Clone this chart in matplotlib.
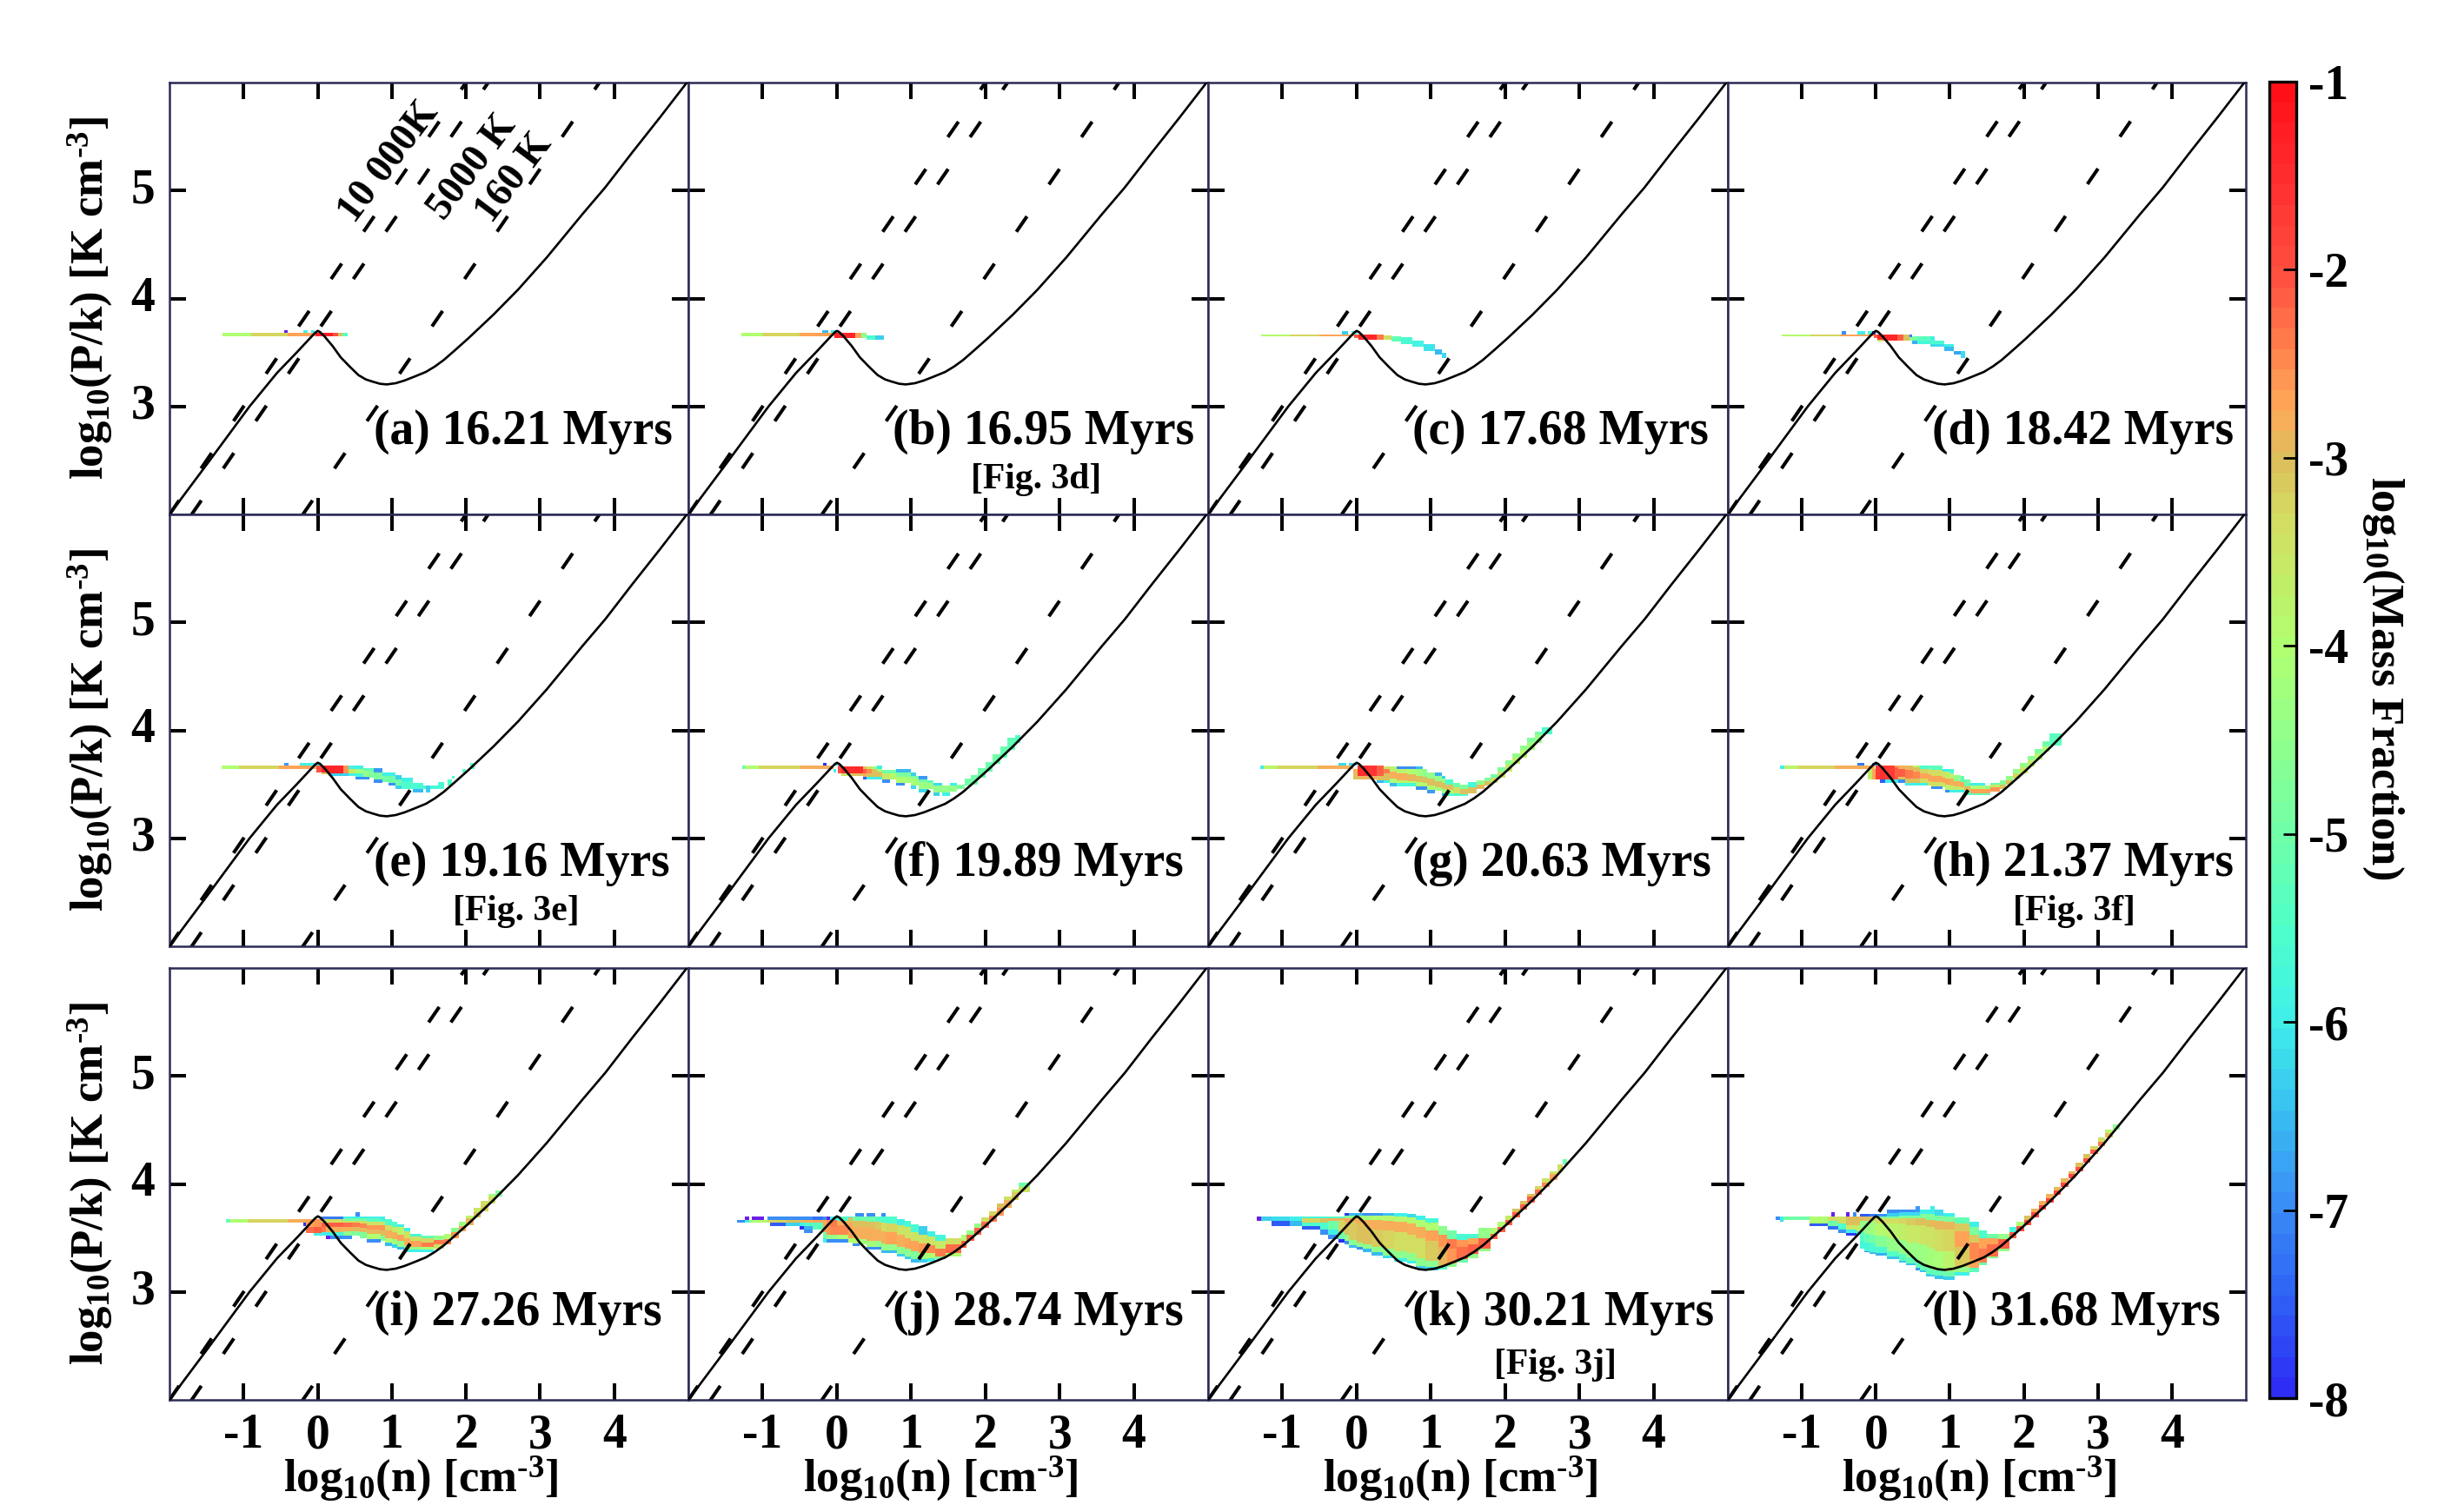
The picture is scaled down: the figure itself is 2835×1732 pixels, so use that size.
import matplotlib
matplotlib.use("Agg")
import matplotlib.pyplot as plt
from matplotlib.colors import LinearSegmentedColormap, Normalize
from matplotlib.cm import ScalarMappable

plt.rcParams['font.family'] = ['Liberation Serif', 'DejaVu Serif']
plt.rcParams['font.weight'] = 'bold'
plt.rcParams['axes.labelweight'] = 'bold'
plt.rcParams['mathtext.fontset'] = 'custom'
plt.rcParams['mathtext.rm'] = 'Liberation Serif:bold'
plt.rcParams['mathtext.default'] = 'rm'
plt.rcParams['axes.unicode_minus'] = False
plt.rcParams['lines.scale_dashes'] = False

W, H = 2835, 1732

# equilibrium curve, log n vs log P/k
curve_n = [-2.0, -1.5, -0.92, -0.55, -0.27, -0.08, -0.03, 0.0, 0.03, 0.09, 0.2, 0.31, 0.43, 0.55, 0.65, 0.74, 0.84, 0.93,
           1.05, 1.17, 1.3, 1.46, 1.58, 1.70, 1.85, 2.03, 2.2, 2.37, 2.70, 3.09, 3.57, 3.88, 4.24, 4.62, 4.98]
curve_p = [2.0, 2.46, 3.0, 3.31, 3.51, 3.65, 3.685, 3.70, 3.69, 3.65, 3.56, 3.455, 3.37, 3.29, 3.25, 3.23, 3.21, 3.204,
           3.215, 3.24, 3.275, 3.32, 3.37, 3.43, 3.52, 3.63, 3.74, 3.85, 4.08, 4.38, 4.78, 5.03, 5.35, 5.68, 6.0]

# isotherms: log P/k = log n + log T
isotherm_logT = [4.0, 3.7, 2.2]
isotherm_names = ['10 000K', '5000 K', '160 K']

panel_names = ['(a) 16.21 Myrs', '(b) 16.95 Myrs', '(c) 17.68 Myrs', '(d) 18.42 Myrs',
               '(e) 19.16 Myrs', '(f) 19.89 Myrs', '(g) 20.63 Myrs', '(h) 21.37 Myrs',
               '(i) 27.26 Myrs', '(j) 28.74 Myrs', '(k) 30.21 Myrs', '(l) 31.68 Myrs']
fig_refs = {1: '[Fig. 3d]', 4: '[Fig. 3e]', 7: '[Fig. 3f]', 10: '[Fig. 3j]'}

xticks = [-1, 0, 1, 2, 3, 4]
yticks = [3, 4, 5]
cticks = [-8, -7, -6, -5, -4, -3, -2, -1]

# cells by column: (log n from, log n to, log P edges, log mass fraction)
panel_a = [
    (-1.29, -0.9, [3.65, 3.68], [-4]), (-0.9, -0.4, [3.65, 3.68], [-3.2]), (-0.4, -0.03, [3.65, 3.68], [-2.7]),
    (-0.03, 0.2, [3.65, 3.68], [-1.3]), (0.2, 0.27, [3.65, 3.68], [-2]), (0.27, 0.33, [3.65, 3.68], [-3]),
    (0.33, 0.4, [3.65, 3.68], [-5.3]), (-0.45, -0.40, [3.68, 3.71], [-8.3]), (-0.19, -0.14, [3.68, 3.71], [-6]),
    (-0.09, -0.04, [3.68, 3.71], [-6]),
]
panel_b = [
    (-1.29, -1.0, [3.65, 3.68], [-4]), (-1.0, -0.5, [3.65, 3.68], [-3.2]), (-0.5, -0.03, [3.65, 3.68], [-2.7]),
    (-0.03, 0.25, [3.63, 3.68], [-1.4]), (0.25, 0.33, [3.63, 3.68], [-2.7]), (0.33, 0.4, [3.63, 3.68], [-4.5]),
    (0.4, 0.52, [3.62, 3.66], [-5.5]), (0.52, 0.63, [3.62, 3.655], [-6.3]),
    (-0.2, -0.12, [3.68, 3.71], [-6.5]), (-0.08, 0.0, [3.68, 3.71], [-6]),
]
panel_c = [
    (-1.29, -0.9, [3.65, 3.67], [-3.9]), (-0.9, -0.5, [3.65, 3.67], [-3.2]), (-0.5, -0.03, [3.65, 3.67], [-2.7]),
    (-0.2, -0.12, [3.67, 3.70], [-6.3]), (-0.07, 0.0, [3.67, 3.70], [-6]),
    (-0.03, 0.02, [3.63, 3.67], [-2.2]), (0.02, 0.27, [3.62, 3.67], [-1.4]), (0.27, 0.37, [3.62, 3.67], [-2.4]),
    (0.37, 0.47, [3.62, 3.66], [-3.3]), (0.47, 0.6, [3.60, 3.65], [-5.2]), (0.6, 0.75, [3.58, 3.64], [-5.6]),
    (0.75, 0.9, [3.55, 3.61], [-5.9]), (0.9, 1.05, [3.51, 3.58], [-6.1]), (1.05, 1.15, [3.48, 3.53], [-6.5]),
    (1.15, 1.21, [3.45, 3.50], [-6.2]),
]
panel_d = [
    (-1.27, -0.88, [3.65, 3.67], [-3.9]), (-0.88, -0.49, [3.65, 3.67], [-3.2]), (-0.49, -0.03, [3.65, 3.67], [-2.7]),
    (-0.46, -0.40, [3.67, 3.70], [-7]), (-0.25, -0.15, [3.67, 3.70], [-6]), (-0.11, -0.05, [3.67, 3.70], [-5.8]),
    (-0.05, 0.0, [3.67, 3.70], [-8.3]), (-0.03, 0.02, [3.63, 3.67], [-2.2]), (0.02, 0.1, [3.60, 3.62, 3.67], [-3.5, -1.4]),
    (0.1, 0.29, [3.61, 3.67], [-1.4]), (0.29, 0.37, [3.61, 3.67], [-2.2]), (0.37, 0.45, [3.61, 3.67], [-3]),
    (0.45, 0.49, [3.61, 3.645, 3.67], [-4.5, -7.2]), (0.49, 0.56, [3.58, 3.61, 3.648], [-6.6, -5]),
    (0.56, 0.74, [3.58, 3.61, 3.648], [-5.8, -5.3]), (0.74, 0.8, [3.55, 3.58, 3.61, 3.648], [-6.2, -5.5, -6]),
    (0.8, 0.92, [3.55, 3.58, 3.61], [-6.2, -5.6]), (0.92, 1.05, [3.51, 3.55, 3.58], [-6.5, -6]),
    (1.05, 1.15, [3.48, 3.51], [-6.7]), (1.15, 1.21, [3.45, 3.51], [-6.2]),
]
panel_e = [
    (-1.30, -1.06, [3.645, 3.675], [-4]), (-1.06, -0.52, [3.645, 3.675], [-3.2]), (-0.52, -0.02, [3.645, 3.675], [-2.7]),
    (-0.45, -0.39, [3.675, 3.70], [-6.8]), (-0.24, 0.05, [3.675, 3.70], [-5.9]), (-0.02, 0.05, [3.61, 3.675], [-2]),
    (0.05, 0.15, [3.59, 3.61, 3.675], [-3, -1.4]), (0.15, 0.34, [3.58, 3.605, 3.675], [-6.3, -1.4]),
    (0.34, 0.42, [3.58, 3.605, 3.675], [-6.3, -2.6]), (0.42, 0.51, [3.58, 3.605, 3.645, 3.675], [-6, -3.6, -5.9]),
    (0.51, 0.62, [3.545, 3.57, 3.60, 3.64, 3.675], [-7, -5.8, -4.2, -6]),
    (0.62, 0.7, [3.545, 3.57, 3.625, 3.65], [-7, -4.5, -5.3]), (0.7, 0.75, [3.56, 3.625, 3.65], [-4.8, -5.3]),
    (0.75, 0.87, [3.513, 3.545, 3.61, 3.65], [-7, -4.8, -6.8]), (0.87, 0.95, [3.52, 3.58, 3.61], [-5, -6]),
    (0.95, 1.05, [3.485, 3.51, 3.58, 3.61], [-7, -5, -6]), (1.05, 1.13, [3.455, 3.485, 3.545, 3.585], [-6.3, -5, -6.3]),
    (1.13, 1.28, [3.455, 3.53, 3.56], [-5.5, -6]), (1.28, 1.42, [3.425, 3.455, 3.51], [-6.5, -5.6]),
    (1.42, 1.46, [3.455, 3.49], [-5.8]), (1.46, 1.52, [3.425, 3.49], [-6.3]), (1.52, 1.62, [3.455, 3.485], [-5.8]),
    (1.62, 1.71, [3.455, 3.52], [-5.6]), (1.75, 1.81, [3.49, 3.545], [-5.5]), (1.81, 1.85, [3.55, 3.578], [-5.5]),
    (1.95, 2.0, [3.61, 3.645], [-5.3]), (2.06, 2.11, [3.64, 3.70], [-5.5]),
]
panel_f = [
    (-1.28, -1.24, [3.64, 3.675], [-5.2]), (-1.24, -1.05, [3.64, 3.675], [-4]), (-1.05, -0.5, [3.64, 3.675], [-3.2]),
    (-0.5, -0.05, [3.64, 3.675], [-2.8]), (-0.18, -0.14, [3.675, 3.70], [-8]), (-0.04, 0.01, [3.675, 3.70], [-6.2]),
    (-0.05, -0.01, [3.61, 3.64], [-6]), (0.01, 0.06, [3.60, 3.675], [-2]),
    (0.06, 0.2, [3.58, 3.605, 3.67], [-3.5, -1.5]), (0.2, 0.35, [3.58, 3.605, 3.67], [-3, -1.5]),
    (0.35, 0.40, [3.545, 3.57, 3.60, 3.64, 3.67], [-7.5, -2.8, -2.2, -3]),
    (0.40, 0.47, [3.545, 3.57, 3.60, 3.64, 3.67], [-6, -3, -2.5, -3.4]), (0.47, 0.54, [3.545, 3.57, 3.64, 3.67], [-6, -3, -4.3]),
    (0.54, 0.61, [3.545, 3.57, 3.62, 3.645, 3.675], [-6, -3, -4.2, -6]),
    (0.61, 0.72, [3.513, 3.545, 3.60, 3.63], [-7, -3.6, -5]), (0.72, 0.8, [3.545, 3.60, 3.63], [-3.9, -5]),
    (0.8, 0.91, [3.486, 3.513, 3.57, 3.61, 3.645], [-7, -4, -4.8, -6.5]), (0.91, 1.0, [3.513, 3.57, 3.61, 3.645], [-4.1, -4.8, -6.5]),
    (1.0, 1.07, [3.456, 3.486, 3.55, 3.58, 3.61], [-6.2, -4.1, -4.8, -6.3]), (1.07, 1.1, [3.486, 3.55, 3.58], [-4.2, -5]),
    (1.1, 1.22, [3.424, 3.456, 3.52, 3.545, 3.58], [-6.2, -4.3, -5, -6.8]), (1.22, 1.3, [3.456, 3.51, 3.54], [-4.3, -5.2]),
    (1.3, 1.38, [3.39, 3.424, 3.486, 3.513], [-6.3, -4.4, -6.2]), (1.38, 1.42, [3.424, 3.486, 3.513], [-4.5, -6.2]),
    (1.42, 1.52, [3.39, 3.424, 3.49], [-6, -4.5]), (1.52, 1.62, [3.43, 3.486, 3.513], [-4.5, -6]),
    (1.62, 1.72, [3.46, 3.50], [-4.8]), (1.72, 1.8, [3.49, 3.55], [-5]), (1.8, 1.9, [3.50, 3.585], [-5]),
    (1.9, 2.0, [3.56, 3.65], [-5]), (2.0, 2.1, [3.62, 3.71], [-5.1]), (2.1, 2.2, [3.69, 3.78], [-5]),
    (2.2, 2.3, [3.75, 3.85], [-5.1]), (2.3, 2.4, [3.82, 3.93], [-5.2]), (2.4, 2.47, [3.88, 3.955], [-5.4]),
]
panel_g = [
    (-1.30, -1.25, [3.645, 3.672], [-6]), (-1.25, -1.06, [3.645, 3.672], [-3.8]), (-1.06, -0.52, [3.645, 3.672], [-3.2]),
    (-0.52, -0.05, [3.645, 3.672], [-2.8]), (-0.24, -0.14, [3.672, 3.70], [-6.2]), (-0.1, 0.0, [3.672, 3.70], [-6.3]),
    (-0.05, 0.01, [3.545, 3.60, 3.645], [-3, -2.8]), (0.01, 0.15, [3.545, 3.575, 3.672], [-2.9, -1.5]),
    (0.15, 0.27, [3.545, 3.58, 3.672], [-2.8, -1.6]), (0.27, 0.36, [3.513, 3.54, 3.58, 3.672], [-6.5, -3, -2.1]),
    (0.36, 0.45, [3.513, 3.54, 3.60, 3.645, 3.67], [-6, -3, -2.4, -3.5]),
    (0.45, 0.54, [3.483, 3.51, 3.55, 3.62, 3.67], [-6.5, -4, -2.8, -3.8]),
    (0.54, 0.68, [3.483, 3.51, 3.54, 3.60, 3.645, 3.67], [-5.8, -3.8, -2.8, -3.8, -7]),
    (0.68, 0.8, [3.483, 3.51, 3.53, 3.59, 3.645, 3.67], [-5.8, -4, -2.9, -4, -7]),
    (0.8, 0.89, [3.45, 3.483, 3.52, 3.58, 3.64, 3.67], [-7, -4, -3, -4.2, -6.5]),
    (0.89, 0.95, [3.45, 3.48, 3.51, 3.57, 3.645], [-7, -4, -3, -4.6]),
    (0.95, 1.05, [3.42, 3.45, 3.49, 3.55, 3.613], [-6.8, -4, -3, -4.5]),
    (1.05, 1.15, [3.44, 3.47, 3.53, 3.58, 3.613], [-4.2, -3, -4.5, -6.6]),
    (1.15, 1.2, [3.39, 3.42, 3.46, 3.51, 3.55, 3.58], [-6.5, -4.4, -3, -4.5, -6.3]),
    (1.2, 1.3, [3.39, 3.42, 3.45, 3.5, 3.545], [-5.5, -4, -3, -5.5]), (1.3, 1.4, [3.39, 3.42, 3.47, 3.515], [-5.5, -3.3, -5]),
    (1.4, 1.5, [3.39, 3.41, 3.46, 3.50], [-5.5, -3, -4.8]), (1.5, 1.62, [3.42, 3.47, 3.52], [-3, -5.8]),
    (1.62, 1.72, [3.455, 3.50, 3.54], [-2.9, -4.5]), (1.72, 1.8, [3.49, 3.53, 3.56], [-3, -4.8]),
    (1.8, 1.9, [3.51, 3.56, 3.59], [-3.3, -5]), (1.9, 2.0, [3.56, 3.62, 3.66], [-3.5, -4.8]),
    (2.0, 2.1, [3.62, 3.68, 3.72], [-3.6, -4.6]), (2.1, 2.2, [3.69, 3.75, 3.79], [-3.7, -4.5]),
    (2.2, 2.3, [3.75, 3.82, 3.86], [-3.9, -4.6]), (2.3, 2.4, [3.82, 3.89, 3.93], [-4.2, -4.8]),
    (2.4, 2.5, [3.88, 3.96, 3.99], [-4.5, -5]), (2.5, 2.63, [3.96, 4.03], [-5.5]),
]
panel_h = [
    (-1.29, -1.24, [3.64, 3.675], [-6]), (-1.24, -1.05, [3.64, 3.675], [-3.8]), (-1.05, -0.56, [3.64, 3.675], [-3.2]),
    (-0.56, -0.02, [3.64, 3.675], [-2.8]), (-0.25, -0.16, [3.675, 3.70], [-7.2]), (-0.05, 0.02, [3.675, 3.70], [-7]),
    (-0.11, -0.05, [3.545, 3.64], [-3.7]), (-0.05, 0.0, [3.545, 3.64], [-2.7]),
    (0.0, 0.05, [3.545, 3.675], [-1.7]), (0.05, 0.12, [3.513, 3.545, 3.675], [-7.5, -1.6]),
    (0.12, 0.25, [3.513, 3.545, 3.675], [-6, -1.7]), (0.25, 0.3, [3.513, 3.545, 3.66, 3.675], [-6, -2.1, -2.7]),
    (0.3, 0.4, [3.513, 3.545, 3.57, 3.64, 3.675], [-7, -3, -2.2, -2.8]),
    (0.4, 0.5, [3.486, 3.513, 3.55, 3.63, 3.675], [-6, -3, -2.4, -2.9]),
    (0.5, 0.6, [3.486, 3.513, 3.55, 3.62, 3.66, 3.675], [-6, -3, -2.5, -3, -4]),
    (0.6, 0.7, [3.486, 3.513, 3.55, 3.60, 3.64, 3.675], [-6, -3.3, -2.7, -3.2, -5.5]),
    (0.75, 0.9, [3.456, 3.483, 3.52, 3.58, 3.63, 3.675], [-7, -3.5, -2.7, -3.3, -5.3]),
    (0.7, 0.75, [3.486, 3.53, 3.59, 3.64, 3.675], [-3.4, -2.7, -3.4, -5.4]),
    (0.9, 0.94, [3.47, 3.51, 3.56, 3.615, 3.645], [-3.6, -2.7, -3.5, -6]),
    (0.94, 1.0, [3.424, 3.45, 3.50, 3.55, 3.615, 3.645], [-7, -3.8, -2.7, -3.6, -6]),
    (1.0, 1.05, [3.424, 3.45, 3.49, 3.55, 3.60, 3.645], [-6, -3.7, -2.8, -3.8, -5.8]),
    (1.05, 1.145, [3.424, 3.45, 3.48, 3.53, 3.585], [-6, -3.6, -2.8, -4.5]),
    (1.145, 1.2, [3.424, 3.45, 3.47, 3.52, 3.58], [-6, -3.6, -2.8, -5.3]),
    (1.2, 1.28, [3.40, 3.44, 3.48, 3.545], [-5.3, -2.9, -5]), (1.28, 1.48, [3.40, 3.42, 3.46, 3.486, 3.513], [-5.2, -2.7, -4, -6]),
    (1.48, 1.55, [3.40, 3.42, 3.46, 3.49], [-5.2, -2.7, -4.5]), (1.55, 1.68, [3.43, 3.47, 3.50, 3.513], [-2.6, -3.6, -5]),
    (1.68, 1.76, [3.46, 3.50, 3.54], [-3, -4.7]), (1.76, 1.85, [3.50, 3.54, 3.58], [-3, -4.5]),
    (1.85, 1.95, [3.55, 3.60, 3.64], [-3.2, -4.5]), (1.95, 2.05, [3.60, 3.66, 3.70], [-3.5, -4.5]),
    (2.05, 2.15, [3.67, 3.72, 3.76], [-3.7, -4.6]), (2.15, 2.25, [3.73, 3.79, 3.83], [-3.8, -4.8]),
    (2.25, 2.35, [3.80, 3.85, 3.90], [-4, -5]), (2.35, 2.51, [3.86, 3.97], [-5.3]),
]
panel_i = [
    (-1.24, -1.18, [3.64, 3.672], [-5.2]), (-1.18, -0.95, [3.64, 3.672], [-4]), (-0.95, -0.4, [3.64, 3.672], [-3.2]),
    (-0.4, -0.16, [3.64, 3.672], [-2.8]), (-0.2, -0.145, [3.607, 3.64], [-8]),
    (-0.16, -0.05, [3.545, 3.60, 3.672], [-2.3, -2.7]), (-0.05, 0.05, [3.52, 3.545, 3.60, 3.672], [-6, -2.2, -2.6]),
    (0.05, 0.11, [3.52, 3.55, 3.60, 3.64, 3.672, 3.70], [-6, -2.4, -2.1, -3.5, -7.2]),
    (0.11, 0.17, [3.486, 3.52, 3.55, 3.60, 3.64, 3.672, 3.70], [-8.3, -6, -2.8, -2.1, -3.5, -7.2]),
    (0.17, 0.34, [3.486, 3.52, 3.55, 3.60, 3.64, 3.672, 3.70], [-7, -5.8, -2.8, -2.1, -3.3, -7.2]),
    (0.34, 0.46, [3.486, 3.52, 3.56, 3.60, 3.64, 3.66, 3.68, 3.70], [-7, -4.6, -2.8, -2.3, -3.4, -5, -6]),
    (0.46, 0.51, [3.52, 3.56, 3.60, 3.64, 3.66, 3.68, 3.70], [-4.8, -2.9, -2.4, -3.4, -5, -6]),
    (0.51, 0.57, [3.52, 3.56, 3.60, 3.64, 3.66, 3.68, 3.70, 3.735], [-4.8, -2.9, -2.4, -3.4, -5, -6, -7]),
    (0.57, 0.66, [3.50, 3.55, 3.59, 3.63, 3.66, 3.68, 3.70], [-4.8, -2.9, -2.5, -3.4, -5, -6]),
    (0.66, 0.85, [3.456, 3.486, 3.54, 3.58, 3.62, 3.65, 3.68, 3.70], [-7, -4, -2.9, -2.6, -3.5, -5.3, -6]),
    (0.85, 0.91, [3.47, 3.52, 3.57, 3.62, 3.65, 3.67, 3.70], [-4.8, -3, -2.6, -3.5, -5.5, -6]),
    (0.91, 1.0, [3.424, 3.456, 3.50, 3.57, 3.62, 3.672], [-6.5, -4, -2.8, -3.4, -5.5]),
    (1.0, 1.07, [3.41, 3.44, 3.49, 3.55, 3.60, 3.65], [-6.3, -4.2, -2.8, -3.6, -5.5]),
    (1.07, 1.16, [3.39, 3.42, 3.47, 3.53, 3.60, 3.625], [-6.5, -4.4, -2.7, -3.8, -6]),
    (1.16, 1.25, [3.365, 3.39, 3.43, 3.50, 3.56, 3.595], [-6, -4.5, -2.8, -3.5, -6]),
    (1.25, 1.4, [3.365, 3.39, 3.42, 3.47, 3.51, 3.535], [-6, -4.5, -2.7, -3.5, -5.8]),
    (1.4, 1.57, [3.365, 3.39, 3.42, 3.46, 3.50, 3.52], [-6, -4, -2.4, -3.2, -5.2]),
    (1.57, 1.7, [3.40, 3.44, 3.48, 3.52], [-3.5, -2.4, -4.5]), (1.7, 1.8, [3.44, 3.49, 3.54], [-2.4, -4]),
    (1.8, 1.9, [3.50, 3.55, 3.59], [-2.6, -4.6]), (1.9, 2.0, [3.56, 3.61, 3.65], [-2.7, -4.3]),
    (2.0, 2.1, [3.62, 3.68, 3.71], [-2.9, -3.8]), (2.1, 2.2, [3.69, 3.74, 3.78], [-3, -3.6]),
    (2.2, 2.3, [3.75, 3.81, 3.84], [-3.2, -3.5]), (2.3, 2.4, [3.82, 3.88, 3.91], [-3.4, -4.2]),
    (2.4, 2.49, [3.88, 3.936], [-4.7]),
]
panel_j = [
    (-1.34, -1.24, [3.64, 3.667], [-7]), (-1.24, -1.18, [3.64, 3.667, 3.70], [-6, -8.3]), (-1.18, -1.14, [3.64, 3.667], [-4.5]),
    (-1.14, -0.98, [3.64, 3.667, 3.70], [-4, -8.3]), (-0.98, -0.93, [3.64, 3.667], [-4]),
    (-0.93, -0.9, [3.64, 3.667, 3.70], [-3.4, -7]), (-0.9, -0.69, [3.608, 3.64, 3.667, 3.70], [-7.5, -3.2, -7]),
    (-0.69, -0.5, [3.608, 3.64, 3.667, 3.70], [-6.3, -3, -7]), (-0.5, -0.44, [3.575, 3.608, 3.64, 3.667, 3.70], [-8, -6, -2.9, -7]),
    (-0.44, -0.33, [3.545, 3.575, 3.608, 3.64, 3.667, 3.70], [-7, -6.6, -5.5, -2.8, -7]),
    (-0.33, -0.18, [3.575, 3.64, 3.667, 3.70], [-5.3, -2.7, -7.3]),
    (-0.18, -0.14, [3.46, 3.50, 3.55, 3.667, 3.70], [-6, -5, -2.7, -7]), (-0.14, -0.09, [3.454, 3.486, 3.53, 3.667, 3.70], [-7, -4.5, -2.6, -8.3]),
    (-0.09, 0.0, [3.454, 3.486, 3.53, 3.60, 3.667, 3.70], [-7, -4.5, -2.5, -2.4, -6]),
    (0.0, 0.15, [3.454, 3.486, 3.53, 3.62, 3.66, 3.70], [-7, -4, -2.5, -2.8, -5.5]),
    (0.15, 0.21, [3.46, 3.50, 3.57, 3.64, 3.69, 3.70], [-4, -2.7, -2.7, -3, -6]),
    (0.21, 0.25, [3.425, 3.45, 3.50, 3.60, 3.66, 3.70], [-7, -4, -2.8, -3, -5]),
    (0.25, 0.31, [3.425, 3.45, 3.50, 3.60, 3.66, 3.70, 3.73], [-7, -4, -2.8, -3, -5, -7]),
    (0.31, 0.36, [3.44, 3.49, 3.60, 3.66, 3.70, 3.73], [-4.2, -2.8, -3, -5, -7]),
    (0.36, 0.4, [3.44, 3.49, 3.60, 3.66, 3.70], [-4.2, -2.8, -3, -5]),
    (0.4, 0.52, [3.39, 3.42, 3.47, 3.59, 3.65, 3.70, 3.73], [-7, -4.2, -2.8, -3, -5, -7]),
    (0.52, 0.6, [3.39, 3.42, 3.47, 3.58, 3.65, 3.70], [-7, -4.4, -2.8, -3.1, -5.4]),
    (0.6, 0.66, [3.36, 3.387, 3.45, 3.56, 3.64, 3.70, 3.73], [-6.5, -4.5, -2.8, -3.3, -5.5, -7]),
    (0.66, 0.81, [3.36, 3.387, 3.44, 3.55, 3.63, 3.70], [-6.5, -4.5, -2.7, -3.2, -5.5]),
    (0.81, 0.91, [3.325, 3.35, 3.42, 3.53, 3.62, 3.675], [-6.3, -4.6, -2.8, -3.5, -6]),
    (0.91, 1.0, [3.30, 3.325, 3.40, 3.50, 3.60, 3.655], [-6.3, -4.6, -2.7, -3.5, -5.6]),
    (1.0, 1.1, [3.27, 3.30, 3.38, 3.47, 3.55, 3.625], [-6.5, -4.8, -2.7, -3.5, -5.6]),
    (1.1, 1.22, [3.27, 3.30, 3.36, 3.45, 3.53, 3.61], [-6.3, -4.2, -2.6, -3.5, -6.3]),
    (1.22, 1.32, [3.28, 3.31, 3.36, 3.43, 3.51, 3.565], [-6, -4, -2.5, -3.5, -6]),
    (1.32, 1.47, [3.30, 3.33, 3.40, 3.47, 3.527], [-4.8, -2.4, -3.6, -5.8]),
    (1.47, 1.67, [3.33, 3.36, 3.44, 3.495], [-4, -2.3, -3.4]), (1.67, 1.75, [3.41, 3.47, 3.527], [-2.2, -4]),
    (1.75, 1.85, [3.47, 3.53, 3.57], [-2.2, -4.5]), (1.85, 1.95, [3.53, 3.59, 3.63], [-2.2, -4.5]),
    (1.95, 2.05, [3.59, 3.65, 3.69], [-2.3, -3.4]), (2.05, 2.15, [3.65, 3.71, 3.75], [-2.4, -3.2]),
    (2.15, 2.25, [3.71, 3.78, 3.82], [-2.6, -3]), (2.25, 2.35, [3.78, 3.85, 3.88], [-2.8, -3.3]),
    (2.35, 2.45, [3.85, 3.92, 3.95], [-3.1, -3.7]), (2.45, 2.6, [3.92, 3.97, 4.01], [-3.5, -5]),
]
panel_k = [
    (-1.35, -1.29, [3.66, 3.70], [-8.3]), (-1.29, -1.14, [3.66, 3.70], [-6.3]), (-1.14, -0.9, [3.61, 3.66, 3.70], [-7.5, -6.2]),
    (-0.9, -0.74, [3.61, 3.66, 3.70], [-6.5, -6]), (-0.74, -0.49, [3.58, 3.61, 3.64, 3.68, 3.70], [-7.5, -5.5, -3.2, -5.8]),
    (-0.49, -0.39, [3.53, 3.58, 3.64, 3.68, 3.70], [-7, -5.5, -3, -5.6]),
    (-0.39, -0.24, [3.49, 3.53, 3.58, 3.66, 3.68, 3.70], [-7, -6, -5, -2.8, -5.4]),
    (-0.24, -0.16, [3.46, 3.49, 3.55, 3.67, 3.68, 3.70], [-8, -5, -3.2, -2.7, -5.3]),
    (-0.16, -0.1, [3.44, 3.47, 3.53, 3.65, 3.68, 3.71, 3.73], [-7, -4.6, -3, -2.7, -4.6, -7.8]),
    (-0.1, 0.0, [3.405, 3.43, 3.48, 3.65, 3.68, 3.71, 3.73], [-6.5, -4.6, -3.1, -2.8, -4.6, -6.5]),
    (0.0, 0.08, [3.39, 3.42, 3.46, 3.63, 3.68, 3.71, 3.73], [-7, -4.6, -3, -2.8, -4.4, -6.5]),
    (0.08, 0.2, [3.37, 3.40, 3.44, 3.60, 3.67, 3.71, 3.73], [-6.5, -4.6, -3, -2.8, -4.2, -7]),
    (0.2, 0.35, [3.34, 3.37, 3.42, 3.58, 3.67, 3.71, 3.73], [-6.5, -4.6, -3.1, -2.8, -4, -6.8]),
    (0.35, 0.5, [3.31, 3.34, 3.40, 3.57, 3.66, 3.71, 3.73], [-6.2, -4.6, -3.2, -2.8, -3.9, -6.4]),
    (0.5, 0.68, [3.28, 3.31, 3.38, 3.55, 3.65, 3.70, 3.73], [-6, -4.6, -3.3, -2.8, -3.9, -6]),
    (0.68, 0.8, [3.26, 3.29, 3.36, 3.53, 3.63, 3.69, 3.72], [-6, -4.6, -3.4, -2.8, -3.9, -6.2]),
    (0.8, 0.93, [3.21, 3.24, 3.31, 3.50, 3.60, 3.67, 3.71], [-6.3, -4.6, -3.3, -2.8, -4, -6]),
    (0.93, 1.1, [3.20, 3.23, 3.29, 3.47, 3.57, 3.64, 3.68], [-6.3, -4.6, -3.1, -2.7, -4, -5.8]),
    (1.1, 1.22, [3.21, 3.24, 3.42, 3.53, 3.61], [-5.4, -2.9, -2.6, -4.6]),
    (1.22, 1.35, [3.23, 3.26, 3.40, 3.49, 3.57], [-4.6, -2.6, -2.4, -5]),
    (1.35, 1.5, [3.27, 3.30, 3.42, 3.48, 3.54], [-5, -2.3, -2.6, -5.6]),
    (1.5, 1.64, [3.31, 3.35, 3.44, 3.50, 3.54], [-4.5, -2.2, -2.7, -5.6]),
    (1.64, 1.8, [3.38, 3.40, 3.50, 3.59], [-4.5, -2.2, -4.5]), (1.8, 1.9, [3.49, 3.54, 3.59], [-2.2, -4]),
    (1.9, 2.0, [3.55, 3.60, 3.65], [-2.2, -4]), (2.0, 2.1, [3.62, 3.67, 3.71], [-2.1, -3.6]),
    (2.1, 2.2, [3.69, 3.74, 3.77], [-2.1, -3]), (2.2, 2.3, [3.76, 3.81, 3.84], [-2.1, -3]),
    (2.3, 2.4, [3.83, 3.88, 3.91], [-2.2, -3]), (2.4, 2.5, [3.90, 3.95, 3.98], [-2.3, -3.2]),
    (2.5, 2.6, [3.97, 4.01, 4.05], [-2.5, -3.5]), (2.6, 2.7, [4.04, 4.09, 4.12], [-2.7, -3.6]),
    (2.7, 2.78, [4.11, 4.18], [-3.4]), (2.78, 2.84, [4.18, 4.23], [-5]),
]
panel_l = [
    (-1.35, -1.3, [3.667, 3.70], [-7]), (-1.3, -1.25, [3.65, 3.667, 3.70], [-6.2, -6]), (-1.25, -0.9, [3.667, 3.70], [-5]),
    (-0.9, -0.65, [3.61, 3.635, 3.70], [-7.5, -4]), (-0.65, -0.51, [3.575, 3.61, 3.66, 3.70], [-7.3, -5, -3.4]),
    (-0.6, -0.55, [3.70, 3.74], [-8.3]), (-0.51, -0.4, [3.548, 3.575, 3.63, 3.70], [-7, -5.5, -3.3]),
    (-0.4, -0.35, [3.52, 3.548, 3.58, 3.62, 3.70, 3.74], [-7.8, -6, -3.6, -3, -8.3]),
    (-0.35, -0.31, [3.52, 3.548, 3.58, 3.62, 3.70], [-7.8, -6, -3.6, -3]),
    (-0.31, -0.26, [3.52, 3.548, 3.58, 3.62, 3.70, 3.74], [-7.8, -6, -3.6, -3, -7]),
    (-0.26, -0.22, [3.527, 3.56, 3.62, 3.70], [-6, -3.7, -3]),
    (-0.22, -0.16, [3.40, 3.47, 3.55, 3.66, 3.70, 3.72], [-5.8, -5.4, -4.5, -2.9, -7.5]),
    (-0.16, -0.08, [3.365, 3.38, 3.46, 3.54, 3.66, 3.70, 3.72], [-7, -5.8, -5.2, -4.4, -3, -7.5]),
    (-0.08, 0.0, [3.35, 3.37, 3.45, 3.53, 3.66, 3.70, 3.72], [-6.5, -5.7, -5, -4.2, -3.1, -7.2]),
    (0.0, 0.15, [3.338, 3.36, 3.42, 3.52, 3.63, 3.68, 3.70, 3.72], [-6.6, -5.6, -4.7, -3.9, -3.3, -4.8, -7]),
    (0.15, 0.31, [3.306, 3.33, 3.38, 3.50, 3.63, 3.68, 3.70, 3.73, 3.76], [-6.4, -5.4, -4.5, -3.8, -3.3, -4.8, -6.3, -7]),
    (0.31, 0.41, [3.27, 3.29, 3.35, 3.48, 3.63, 3.68, 3.71, 3.735, 3.76], [-6.4, -5.3, -4.4, -3.7, -3.2, -4.8, -6.2, -7]),
    (0.41, 0.54, [3.244, 3.265, 3.32, 3.46, 3.62, 3.68, 3.71, 3.735, 3.76], [-6.4, -5.2, -4.3, -3.6, -3.1, -4.8, -6.2, -7]),
    (0.54, 0.6, [3.20, 3.22, 3.28, 3.45, 3.62, 3.68, 3.71, 3.735, 3.795], [-6.8, -5.2, -4.3, -3.6, -3, -4.8, -6.2, -6.8]),
    (0.6, 0.68, [3.18, 3.20, 3.26, 3.44, 3.62, 3.68, 3.72, 3.76], [-6.4, -5.2, -4.3, -3.5, -3, -4.8, -6]),
    (0.68, 0.74, [3.144, 3.165, 3.22, 3.42, 3.60, 3.67, 3.72, 3.76], [-6.3, -5.2, -4.2, -3.5, -3, -4.8, -6]),
    (0.74, 0.8, [3.14, 3.16, 3.21, 3.40, 3.60, 3.67, 3.72, 3.76, 3.795], [-6.3, -5.2, -4.2, -3.5, -2.9, -4.8, -6, -6]),
    (0.8, 0.915, [3.12, 3.15, 3.20, 3.38, 3.58, 3.66, 3.71, 3.76], [-6.4, -5.2, -4.1, -3.3, -2.9, -4.8, -6.2]),
    (0.915, 1.07, [3.11, 3.14, 3.19, 3.38, 3.58, 3.65, 3.70, 3.73], [-6.3, -5, -3.8, -3.2, -2.9, -4.8, -6]),
    (1.07, 1.27, [3.15, 3.18, 3.23, 3.42, 3.56, 3.63, 3.69], [-6, -4.4, -3.1, -2.7, -3.1, -5.2]),
    (1.27, 1.4, [3.18, 3.22, 3.30, 3.46, 3.53, 3.60, 3.65], [-5.3, -2.7, -2.5, -3.1, -4.8, -6]),
    (1.4, 1.5, [3.25, 3.27, 3.40, 3.50, 3.57], [-5, -2.4, -2.7, -5.5]),
    (1.5, 1.65, [3.31, 3.33, 3.44, 3.50, 3.54], [-4.6, -2.3, -2.7, -5]),
    (1.65, 1.8, [3.38, 3.40, 3.49, 3.54], [-4.5, -2.2, -4.5]), (1.8, 1.9, [3.50, 3.55, 3.60], [-2.1, -5.8]),
    (1.9, 2.0, [3.56, 3.61, 3.65], [-2, -4]), (2.0, 2.1, [3.62, 3.67, 3.71], [-1.9, -3]),
    (2.1, 2.2, [3.69, 3.74, 3.77], [-1.8, -2.8]), (2.2, 2.3, [3.76, 3.80, 3.84], [-1.8, -2.8]),
    (2.3, 2.4, [3.83, 3.87, 3.91], [-1.8, -2.8]), (2.4, 2.5, [3.90, 3.94, 3.97], [-1.9, -2.9]),
    (2.5, 2.6, [3.97, 4.01, 4.05], [-1.9, -2.9]), (2.6, 2.7, [4.05, 4.09, 4.12], [-1.9, -2.9]),
    (2.7, 2.8, [4.12, 4.16, 4.20], [-2, -3]), (2.8, 2.9, [4.20, 4.24, 4.28], [-2, -3]),
    (2.9, 3.0, [4.28, 4.32, 4.35], [-2.2, -3.2]), (3.0, 3.1, [4.35, 4.39, 4.43], [-2.4, -3.4]),
    (3.1, 3.2, [4.43, 4.47, 4.50], [-2.9, -3.8]), (3.2, 3.3, [4.50, 4.55], [-4.6]),
]
panels = [panel_a, panel_b, panel_c, panel_d, panel_e, panel_f, panel_g, panel_h, panel_i, panel_j, panel_k, panel_l]

# colour bar stops
cmap_vals = [-8, -7.5, -7, -6.5, -6, -5.5, -5, -4, -3.3, -3, -2.7, -2, -1.5, -1]
cmap_cols = ['#2d2df5', '#2f62f5', '#3a8ef5', '#38c0f0', '#40f0e8', '#50ffc8', '#70ffa8', '#b0ff70',
             '#d4dc60', '#dcc05c', '#ffa858', '#ff5040', '#ff3030', '#ff1018']
cmap = LinearSegmentedColormap.from_list('massfrac', [((v + 8) / 7, c) for v, c in zip(cmap_vals, cmap_cols)], N=64)
cmap.set_under('#6a1fe8')
norm = Normalize(-8, -1)

col_edges = [195, 792, 1390, 1988, 2584]
row_tops = [95, 592, 1114]
row_bots = [592, 1089, 1611]
name_base = [2.65, 2.65, 2.69]
spine = '#2b2b55'
FS = 40
LS = 38

fig = plt.figure(figsize=(W / 100, H / 100), dpi=100)

for i, (cells, name) in enumerate(zip(panels, panel_names)):
    r, c = divmod(i, 4)
    x0, x1 = col_edges[c], col_edges[c + 1]
    y0, y1 = row_tops[r], row_bots[r]
    ax = fig.add_axes([x0 / W, 1 - y1 / H, (x1 - x0) / W, (y1 - y0) / H])
    ax.set_xlim(-2, 5)
    ax.set_ylim(2, 6)
    for n0, n1, edges, vals in cells:
        ax.pcolormesh([n0, n1], edges, [[v] for v in vals], cmap=cmap, norm=norm, antialiased=False, linewidth=0, zorder=1)
    ax.plot(curve_n, curve_p, color='k', lw=1.9, zorder=3)
    for logT in isotherm_logT:
        ax.plot([1.987 - logT, 6.0 - logT], [1.987, 6.0], color='k', lw=2.9, dashes=(15.5, 32.1),
                dash_capstyle='butt', zorder=2)
    ax.text(0.755, name_base[r], name, fontsize=FS, ha='left', va='baseline', zorder=5)
    if i in fig_refs:
        ax.text(2.68, 2.32, fig_refs[i], fontsize=30, ha='center', va='center', zorder=5)
    ax.set_xticks(xticks)
    ax.set_yticks(yticks)
    ax.tick_params(which='major', direction='in', length=13.5, width=2.9, top=True, right=True, color='k')
    ax.set_xticklabels([str(t) for t in xticks] if r == 2 else [], fontsize=FS)
    ax.set_yticklabels([str(t) for t in yticks] if c == 0 else [], fontsize=FS, va='center')
    ax.tick_params(axis='x', pad=11)
    ax.tick_params(axis='y', pad=12)
    for s in ax.spines.values():
        s.set_color(spine)
        s.set_linewidth(1.8)
    if r == 2:
        ax.set_xlabel('log$_{10}$(n) [cm$^{\u20103}$]', fontsize=LS)
        ax.xaxis.set_label_coords(0.485, -0.125)
    if c == 0:
        ax.set_ylabel('log$_{10}$(P/k) [K cm$^{\u20103}$]', fontsize=LS)
        ax.yaxis.set_label_coords(-0.105, 0.5)
    if i == 0:
        ax.text(0.96, 5.26, isotherm_names[0], fontsize=33, rotation=53, ha='center', va='center', zorder=5)
        ax.text(2.09, 5.215, isotherm_names[1], fontsize=33, rotation=53, ha='center', va='center', zorder=5)
        ax.text(2.66, 5.11, isotherm_names[2], fontsize=33, rotation=53, ha='center', va='center', zorder=5)

cax = fig.add_axes([2611 / W, 1 - 1609 / H, 31 / W, 1515 / H])
cb = fig.colorbar(ScalarMappable(norm=norm, cmap=cmap), cax=cax)
cb.set_ticks(cticks)
cb.set_ticklabels([str(t) for t in cticks])
cb.ax.tick_params(direction='in', length=11, width=2, labelsize=FS, pad=10, color='k')
cb.outline.set_linewidth(2.4)
cb.outline.set_edgecolor('k')
fig.text(2742 / W, 1 - 780 / H, 'log$_{10}$(Mass Fraction)', fontsize=LS, rotation=270, ha='center', va='center')

fig.savefig('out.png', dpi=100, facecolor='white')
